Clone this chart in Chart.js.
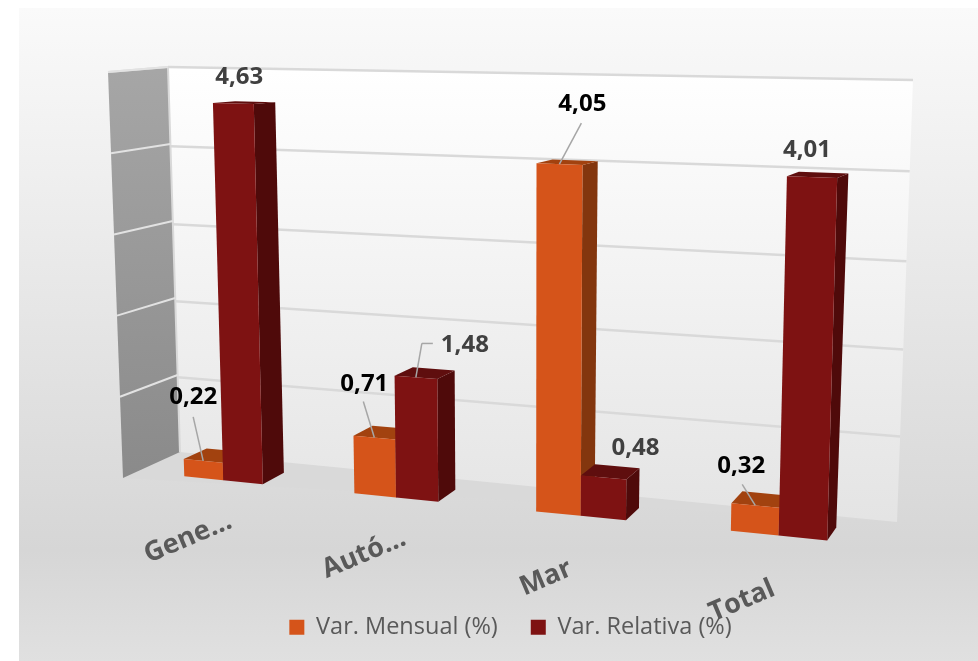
<!DOCTYPE html>
<html>
<head>
<meta charset="utf-8">
<title>Var. Mensual y Relativa</title>
<script src="https://cdn.jsdelivr.net/npm/chart.js@4/dist/chart.umd.js"></script>
<style>
    html, body { margin: 0; padding: 0; background: #fff; }
    canvas { display: block; }
</style>
</head>
<body>
<canvas id="chart-3d" width="978" height="661"></canvas>
<script>
// Data

var categories = ['Gene…', 'Autó…', 'Mar', 'Total'];
var varMensual = [0.22, 0.71, 4.05, 0.32];
var varRelativa = [4.63, 1.48, 0.48, 4.01];
var seriesNames = ['Var. Mensual (%)', 'Var. Relativa (%)'];

// Perspective of the picture: where the plot rectangle lands on screen

var frontQuad = [[127, 70], [898, 86], [883, 546], [141, 472]];
var backQuad = [[151, 69], [909, 83], [891, 533], [165, 461]];
var wallQuad = [[168, 67], [913, 80], [897, 522], [180, 452]];
var sideWall = [[108, 72], [168, 67], [180, 452], [123, 478]];

// Colours: front, top, side

var orangeFaces = ['#D5541A', '#A2420F', '#83360E'];
var redFaces = ['#7E1212', '#5F0E0E', '#4F0A0A'];

// Data labels, relative to the middle of the bar's front top edge

var labelSpots = [
    [{ x: -10, y: -64, line: [[-10, -44]] }, { x: -10, y: -53, line: [[-11, -36]] }, { x: 23, y: -60, line: [[22, -41]] }, { x: -14, y: -39, line: [[-13, -21]] }],
    [{ x: 6, y: -26 }, { x: 49, y: -32, line: [[17, -34], [6, -34]] }, { x: 32, y: -29 }, { x: -5, y: -27 }]
];
var labelColors = ['#000000', '#404040'];
var tickSpots = [[188, 538], [364, 554], [546, 578], [742, 601]];
var plotArea = null;

// Methods

function homography(q) {
    var dx1 = q[1][0] - q[2][0], dx2 = q[3][0] - q[2][0], sx = q[0][0] - q[1][0] + q[2][0] - q[3][0];
    var dy1 = q[1][1] - q[2][1], dy2 = q[3][1] - q[2][1], sy = q[0][1] - q[1][1] + q[2][1] - q[3][1];
    var det = dx1 * dy2 - dx2 * dy1;
    var g = (sx * dy2 - dx2 * sy) / det;
    var h = (dx1 * sy - sx * dy1) / det;
    return function (u, v) {
        var w = g * u + h * v + 1;
        return [
            ((q[1][0] - q[0][0] + g * q[1][0]) * u + (q[3][0] - q[0][0] + h * q[3][0]) * v + q[0][0]) / w,
            ((q[1][1] - q[0][1] + g * q[1][1]) * u + (q[3][1] - q[0][1] + h * q[3][1]) * v + q[0][1]) / w
        ];
    };
}

var toFront = homography(frontQuad);
var toBack = homography(backQuad);
var toWall = homography(wallQuad);

function polygon(ctx, pts, fill) {
    ctx.beginPath();
    pts.forEach(function (p, i) {
        if (i === 0) ctx.moveTo(p[0], p[1]);
        else ctx.lineTo(p[0], p[1]);
    });
    ctx.closePath();
    ctx.fillStyle = fill;
    ctx.fill();
}

function segment(ctx, a, b, color, width) {
    ctx.beginPath();
    ctx.moveTo(a[0], a[1]);
    ctx.lineTo(b[0], b[1]);
    ctx.strokeStyle = color;
    ctx.lineWidth = width;
    ctx.stroke();
}

function mix(a, b, t) {
    return [a[0] + (b[0] - a[0]) * t, a[1] + (b[1] - a[1]) * t];
}

// Bars keep their place from the scales, only the drawing becomes a box

Chart.BarElement.prototype.draw = function (ctx) {
    var area = plotArea;
    var faces = this.options.backgroundColor === orangeFaces[0] ? orangeFaces : redFaces;
    var u1 = (this.x - this.width / 2 - area.left) / area.width;
    var u2 = (this.x + this.width / 2 - area.left) / area.width;
    var v1 = (this.y - area.top) / area.height;
    var v2 = (this.base - area.top) / area.height;

    polygon(ctx, [toFront(u2, v1), toBack(u2, v1), toBack(u2, v2), toFront(u2, v2)], faces[2]);
    polygon(ctx, [toFront(u1, v1), toBack(u1, v1), toBack(u2, v1), toFront(u2, v1)], faces[1]);
    polygon(ctx, [toFront(u1, v1), toFront(u2, v1), toFront(u2, v2), toFront(u1, v2)], faces[0]);
};

var scene3d = {
    id: 'scene3d',
    beforeDraw: function (chart) {
        var ctx = chart.ctx;
        plotArea = chart.chartArea;
        var bg = ctx.createLinearGradient(0, 8, 0, 661);
        bg.addColorStop(0, '#FAFAFA');
        bg.addColorStop(0.83, '#D6D6D6');
        bg.addColorStop(1, '#E0E0E0');
        ctx.fillStyle = bg;
        ctx.fillRect(19, 8, 959, 653);
    },
    beforeDatasetsDraw: function (chart) {
        var ctx = chart.ctx;
        var yScale = chart.scales.y;
        var area = chart.chartArea;

        // floor
        polygon(ctx, [sideWall[3], wallQuad[3], wallQuad[2]], '#D9D9D9');

        // walls
        var wallFill = ctx.createLinearGradient(0, 70, 0, 520);
        wallFill.addColorStop(0, '#FFFFFF');
        wallFill.addColorStop(1, '#E4E4E4');
        polygon(ctx, wallQuad, wallFill);
        var sideFill = ctx.createLinearGradient(0, 70, 0, 480);
        sideFill.addColorStop(0, '#A6A6A6');
        sideFill.addColorStop(1, '#8A8A8A');
        polygon(ctx, sideWall, sideFill);
        segment(ctx, sideWall[0], sideWall[1], '#D9D9D9', 2);
        segment(ctx, sideWall[1], sideWall[2], '#D9D9D9', 2);

        // grid, top line included, bottom one is the floor
        yScale.ticks.forEach(function (tick) {
            if (tick.value === 0) return;
            var v = (yScale.getPixelForValue(tick.value) - area.top) / area.height;
            segment(ctx, toWall(0, v), toWall(1, v), '#D9D9D9', 2.5);
            segment(ctx, mix(sideWall[0], sideWall[3], v), mix(sideWall[1], sideWall[2], v), '#E2E2E2', 2);
        });
    },
    // the library draws the last dataset first, the boxes need it the other way round
    beforeDatasetDraw: function () {
        return false;
    },
    afterDatasetsDraw: function (chart) {
        var ctx = chart.ctx;
        var area = chart.chartArea;

        chart.data.datasets.forEach(function (dataset, d) {
            chart.getDatasetMeta(d).controller.draw();
        });

        ctx.save();
        ctx.textAlign = 'center';
        ctx.textBaseline = 'middle';

        // leader lines and data labels
        chart.data.datasets.forEach(function (dataset, d) {
            chart.getDatasetMeta(d).data.forEach(function (bar, i) {
                var u = (bar.x - area.left) / area.width;
                var v = (bar.y - area.top) / area.height;
                var anchor = toFront(u, v);
                var spot = labelSpots[d][i];
                if (spot.line) {
                    var from = anchor;
                    spot.line.slice().reverse().forEach(function (o) {
                        var to = [anchor[0] + o[0], anchor[1] + o[1]];
                        segment(ctx, from, to, '#A6A6A6', 1.5);
                        from = to;
                    });
                }
                ctx.font = 'bold 24px "Open Sans"';
                ctx.fillStyle = labelColors[d];
                ctx.fillText(dataset.data[i].toFixed(2).replace('.', ','), anchor[0] + spot.x, anchor[1] + spot.y);
            });
        });

        // category labels
        chart.data.labels.forEach(function (label, i) {
            ctx.save();
            ctx.translate(tickSpots[i][0], tickSpots[i][1]);
            ctx.rotate(-23 * Math.PI / 180);
            ctx.font = 'bold 27px "Open Sans"';
            ctx.fillStyle = '#595959';
            ctx.fillText(label, 0, 0);
            ctx.restore();
        });
        ctx.restore();
    }
};

// Init

var threeDChart = new Chart(document.getElementById('chart-3d'), {
    type: 'bar',
    data: {
        labels: categories,
        datasets: [{
            label: seriesNames[0],
            data: varMensual,
            backgroundColor: orangeFaces[0]
        }, {
            label: seriesNames[1],
            data: varRelativa,
            backgroundColor: redFaces[0]
        }]
    },
    options: {
        responsive: false,
        animation: false,
        categoryPercentage: 0.47,
        barPercentage: 1,
        layout: { padding: { left: 43, top: 8, bottom: 12 } },
        scales: {
            x: { display: false },
            y: { display: false, min: 0, max: 5, ticks: { stepSize: 1 } }
        },
        plugins: {
            tooltip: { enabled: false },
            legend: {
                position: 'bottom',
                labels: {
                    boxWidth: 15,
                    boxHeight: 15,
                    padding: 33,
                    color: '#595959',
                    font: { family: '"Open Sans"', size: 23.5 }
                }
            }
        }
    },
    plugins: [scene3d]
});
</script>
</body>
</html>
